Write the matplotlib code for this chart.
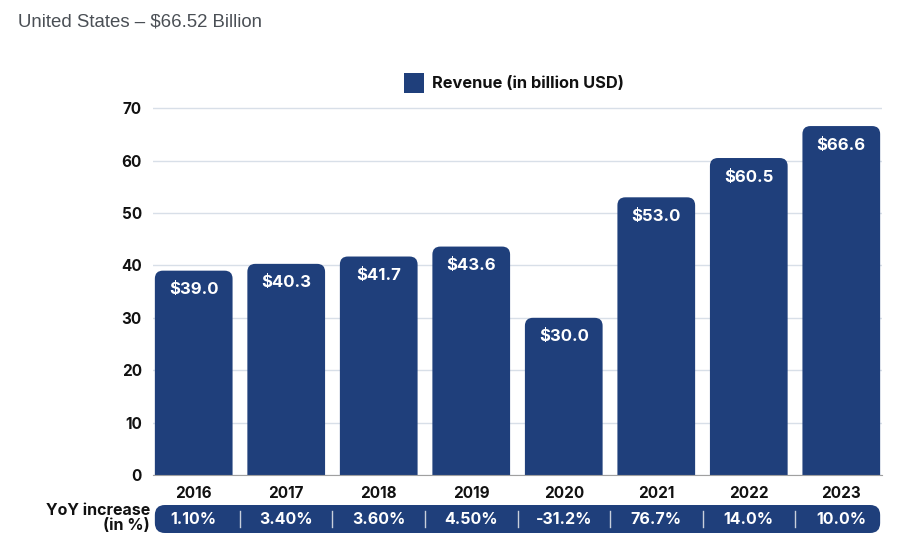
import matplotlib
matplotlib.use("Agg")
import matplotlib.pyplot as plt
from matplotlib.patches import FancyBboxPatch, Rectangle

years = ["2016", "2017", "2018", "2019", "2020", "2021", "2022", "2023"]
revenue = [39.0, 40.3, 41.7, 43.6, 30.0, 53.0, 60.5, 66.6]
yoy = ["1.10%", "3.40%", "3.60%", "4.50%", "-31.2%", "76.7%", "14.0%", "10.0%"]

BAR = "#1f3f7b"
FONT = ["Inter", "DejaVu Sans"]
plt.rcParams["font.family"] = FONT

W, H = 919, 551
fig = plt.figure(figsize=(W / 100, H / 100), dpi=100)

# main axes, placed in pixel terms
x0, x1 = 153, 882
ytop, ybot = 103, 475
ax = fig.add_axes([x0 / W, 1 - ybot / H, (x1 - x0) / W, (ybot - ytop) / H])
xlim = (-0.44, 7.44)
ylim = (0, 71)
ax.set_xlim(*xlim)
ax.set_ylim(*ylim)

px_per_x = (x1 - x0) / (xlim[1] - xlim[0])
px_per_y = (ybot - ytop) / (ylim[1] - ylim[0])
aspect = px_per_x / px_per_y

bw = 0.84
r = 8 / px_per_x
for i, v in enumerate(revenue):
    p = FancyBboxPatch((i - bw / 2, -5), bw, v + 5,
                       boxstyle=f"round,pad=0,rounding_size={r}",
                       mutation_aspect=aspect, fc=BAR, ec="none", zorder=3)
    ax.add_patch(p)
    ax.annotate(f"${v:.1f}", (i, v), xytext=(0, -19), textcoords="offset pixels",
                ha="center", va="center", color="white", fontsize=12,
                fontweight="bold", zorder=4)

ax.set_yticks(range(0, 71, 10))
ax.yaxis.grid(True, color="#d8dfe8", lw=1, zorder=0)
ax.set_axisbelow(True)
for s in ["top", "right", "left"]:
    ax.spines[s].set_visible(False)
ax.spines["bottom"].set_color("#a0a0a0")
ax.spines["bottom"].set_zorder(5)
ax.set_xticks(range(len(years)))
ax.set_xticklabels(years)
ax.tick_params(axis="both", length=0, labelsize=11)
ax.tick_params(axis="x", pad=8)
ax.tick_params(axis="y", pad=8)
for lab in ax.get_xticklabels() + ax.get_yticklabels():
    lab.set_fontweight("bold")
    lab.set_color("#111111")

# YoY pill row
pb, pt = 533, 505
pax = fig.add_axes([x0 / W, 1 - pb / H, (x1 - x0) / W, (pb - pt) / H])
pax.set_xlim(*xlim)
pax.set_ylim(0, 1)
pax.axis("off")
p_aspect = px_per_x / (pb - pt)
pill = FancyBboxPatch((-0.42, 0), 7.84, 1,
                      boxstyle=f"round,pad=0,rounding_size={10 / px_per_x}",
                      mutation_aspect=p_aspect, fc=BAR, ec="none")
pax.add_patch(pill)
for i, t in enumerate(yoy):
    pax.text(i, 0.5, t, ha="center", va="center", color="white",
             fontsize=11.5, fontweight="bold")
    if i > 0:
        pax.plot([i - 0.5, i - 0.5], [0.2, 0.8], color="#c8cfdb", lw=1)

fig.text(150 / W, 1 - 518 / H, "YoY increase\n(in %)", ha="right", va="center",
         fontsize=11.5, fontweight="bold", color="#111111", linespacing=1.0)

# legend
fig.patches.append(Rectangle((404 / W, 1 - 93 / H), 20 / W, 20 / H,
                             transform=fig.transFigure, fc=BAR, ec="none"))
fig.text(432 / W, 1 - 84 / H, "Revenue (in billion USD)", ha="left", va="center",
         fontsize=11.8, fontweight="bold", color="#111111")

fig.text(18 / W, 1 - 22 / H, "United States \u2013 $66.52 Billion", ha="left",
         va="center", fontsize=13.4, color="#4a4f55", family="Liberation Sans")

fig.savefig("out.png", dpi=100, facecolor="white")
